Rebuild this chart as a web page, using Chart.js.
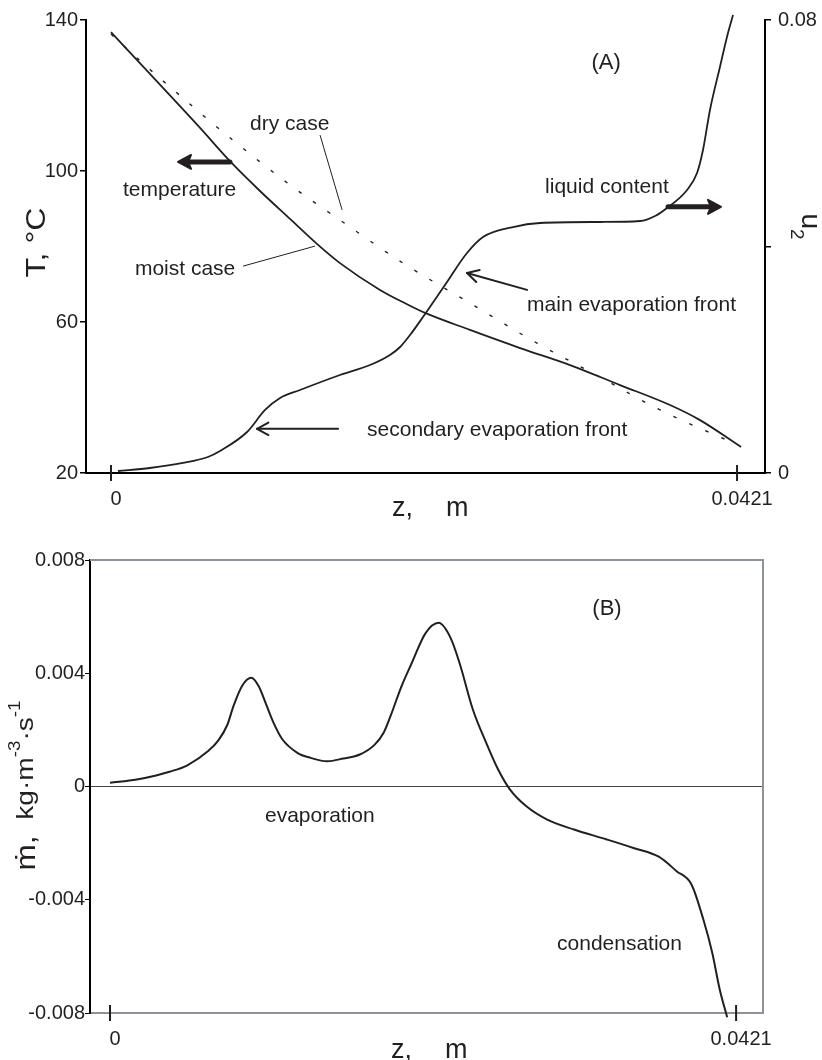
<!DOCTYPE html>
<html>
<head>
<meta charset="utf-8">
<script src="https://cdn.jsdelivr.net/npm/chart.js@4.4.1/dist/chart.umd.min.js"></script>
<style>
  html, body { margin: 0; padding: 0; background: #fff; }
  #wrap { position: relative; width: 822px; height: 1060px; overflow: hidden; }
  #chartA { position: absolute; left: 0; top: 0; }
  #chartB { position: absolute; left: 0; top: 540px; }
</style>
</head>
<body>
<div id="wrap">
  <canvas id="chartA" width="822" height="530"></canvas>
  <canvas id="chartB" width="822" height="520"></canvas>
</div>
<script>
const FONT = "'Liberation Sans', Arial, Helvetica, sans-serif";
const INK = '#231f20';
const FRAME = '#8c939b';

// (A) temperature for the moist and the dry case, liquid content, along z [m]
const moistZ = [0, 0.00262, 0.00599, 0.0080, 0.01002, 0.01204, 0.01385, 0.0154, 0.01809, 0.01991, 0.02112, 0.02414, 0.02751, 0.03087, 0.03423, 0.03759, 0.03961, 0.04237];
const moistT = [136.8, 125.7, 111.4, 102.6, 94.7, 87.3, 80.7, 75.6, 68.5, 64.7, 62.4, 57.9, 53.1, 48.6, 43.3, 38.0, 34.0, 26.9];

const dryZ = [0, 0.00094, 0.00484, 0.00794, 0.01204, 0.0154, 0.01964, 0.02414, 0.02865, 0.03289, 0.03692, 0.04183];
const dryT = [136.3, 132.8, 119.3, 109.0, 96.3, 87.0, 75.6, 65.0, 54.4, 45.4, 36.7, 28.0];

const liquidZ = [0.00047, 0.00262, 0.00484, 0.00652, 0.00733, 0.00915, 0.01036, 0.01137, 0.01271, 0.0154, 0.01742, 0.01876, 0.01944, 0.02011, 0.02098, 0.02246, 0.02394, 0.02502, 0.02704, 0.02885, 0.03289, 0.03558, 0.03659, 0.03739, 0.03874, 0.03941, 0.03981, 0.04028, 0.04095, 0.04149, 0.04183];
const liquidU = [0.00035, 0.00088, 0.00177, 0.00283, 0.00389, 0.00724, 0.01113, 0.01325, 0.01466, 0.01731, 0.01907, 0.02084, 0.02225, 0.02437, 0.02755, 0.0332, 0.03885, 0.04168, 0.04344, 0.04415, 0.04433, 0.0445, 0.04539, 0.0468, 0.04998, 0.05298, 0.05704, 0.06411, 0.0717, 0.0777, 0.08088];

// (B) evaporation / condensation rate
const rateZ = [0, 0.0018, 0.0031, 0.0040, 0.0052, 0.0066, 0.0073, 0.0079, 0.0083, 0.0089, 0.0095, 0.0100, 0.0105, 0.0110, 0.0116, 0.0126, 0.0135, 0.0146, 0.0157, 0.0168, 0.0178, 0.0184, 0.0189, 0.0196, 0.0203, 0.0212, 0.0221, 0.0229, 0.0235, 0.0244, 0.0253, 0.0261, 0.0269, 0.0280, 0.0294, 0.0312, 0.0334, 0.0352, 0.0369, 0.0381, 0.0391, 0.0399, 0.0405, 0.0410, 0.0415];
const rateM = [0.00013, 0.00025, 0.00039, 0.00052, 0.00075, 0.00125, 0.00164, 0.00219, 0.00284, 0.00357, 0.00384, 0.00354, 0.0029, 0.00225, 0.00166, 0.00119, 0.00101, 0.00089, 0.00099, 0.00113, 0.00148, 0.0019, 0.00254, 0.00354, 0.00437, 0.0054, 0.00578, 0.00525, 0.00437, 0.00272, 0.00154, 0.0006, -0.00011, -0.0007, -0.00117, -0.00152, -0.00187, -0.00217, -0.00248, -0.00299, -0.00346, -0.0047, -0.00588, -0.00717, -0.00815];

const zTicks = [0, 0.0421];
const tTicks = [20, 60, 100, 140];
const uTicks = [0, 0.04, 0.08];
const mTicks = [-0.008, -0.004, 0, 0.004, 0.008];

// labels on the panels, placed in data units
const notesA = [
  { text: '(A)', z: 0.0333, v: 126.9, size: 22, align: 'center' },
  { text: 'dry case', z: 0.00935, v: 110.9 },
  { text: 'temperature', z: 0.00081, v: 93.4 },
  { text: 'moist case', z: 0.00161, v: 72.5 },
  { text: 'liquid content', z: 0.02919, v: 94.2 },
  { text: 'main evaporation front', z: 0.02798, v: 62.9 },
  { text: 'secondary evaporation front', z: 0.01722, v: 29.8 }
];
const leadersA = [
  [0.01406, 109.5, 0.01554, 89.7],
  [0.00888, 74.8, 0.01372, 80.1]
];
const arrowsA = [
  { from: [0.0080, 102.4], to: [0.00451, 102.4], heavy: true },
  { from: [0.03746, 90.5], to: [0.04102, 90.5], heavy: true },
  { from: [0.02798, 68.5], to: [0.02394, 73.0] },
  { from: [0.01527, 31.7], to: [0.00982, 31.7] }
];
const notesB = [
  { text: '(B)', z: 0.03342, v: 0.00604, size: 22, align: 'center' },
  { text: 'evaporation', z: 0.01042, v: -0.00124 },
  { text: 'condensation', z: 0.03006, v: -0.00579 }
];

function pairs(xs, ys) {
  return xs.map((x, i) => ({ x: x, y: ys[i] }));
}

function setTicks(values) {
  return (scale) => { scale.ticks = values.map((v) => ({ value: v })); };
}

function drawText(ctx, str, x, y, size, align) {
  ctx.save();
  ctx.font = (size || 21) + 'px ' + FONT;
  ctx.fillStyle = INK;
  ctx.textAlign = align || 'left';
  ctx.textBaseline = 'alphabetic';
  ctx.fillText(str, x, y);
  ctx.restore();
}

function drawRotated(ctx, pieces, bx, cy, angle, length) {
  ctx.save();
  ctx.fillStyle = INK;
  ctx.textBaseline = 'alphabetic';
  ctx.textAlign = 'left';
  let natural = 0;
  pieces.forEach((p) => {
    ctx.font = p.size + 'px ' + FONT;
    p.w = ctx.measureText(p.text).width;
    natural += p.w;
  });
  const sx = length ? length / natural : 1;
  ctx.translate(bx, cy);
  ctx.rotate(angle);
  ctx.scale(sx, 1);
  let x = -natural / 2;
  pieces.forEach((p) => {
    ctx.font = p.size + 'px ' + FONT;
    ctx.fillText(p.text, x, -(p.rise || 0));
    x += p.w;
  });
  ctx.restore();
}

function drawArrow(ctx, x1, y1, x2, y2, heavy) {
  const a = Math.atan2(y2 - y1, x2 - x1);
  const c = Math.cos(a), s = Math.sin(a);
  ctx.save();
  ctx.strokeStyle = INK;
  ctx.fillStyle = INK;
  ctx.lineCap = 'round';
  ctx.lineJoin = 'round';
  if (heavy) {
    const head = 13, half = 7;
    const bx = x2 - c * head, by = y2 - s * head;
    ctx.lineWidth = 5;
    ctx.beginPath();
    ctx.moveTo(x1, y1);
    ctx.lineTo(bx + c * 2, by + s * 2);
    ctx.stroke();
    ctx.lineWidth = 2;
    ctx.beginPath();
    ctx.moveTo(x2, y2);
    ctx.lineTo(bx - s * half, by + c * half);
    ctx.lineTo(bx + c * 3, by + s * 3);
    ctx.lineTo(bx + s * half, by - c * half);
    ctx.closePath();
    ctx.fill();
    ctx.stroke();
  } else {
    ctx.lineWidth = 2;
    ctx.beginPath();
    ctx.moveTo(x1, y1);
    ctx.lineTo(x2, y2);
    ctx.stroke();
    ctx.beginPath();
    ctx.moveTo(x2 - 13 * Math.cos(a - 0.5), y2 - 13 * Math.sin(a - 0.5));
    ctx.lineTo(x2, y2);
    ctx.lineTo(x2 - 13 * Math.cos(a + 0.5), y2 - 13 * Math.sin(a + 0.5));
    ctx.stroke();
  }
  ctx.restore();
}

// the "+" ticks that cross the z axis
const crossTicks = {
  id: 'crossTicks',
  afterDraw(chart) {
    const ctx = chart.ctx;
    const x = chart.scales.x;
    const yb = chart.chartArea.bottom;
    ctx.save();
    ctx.strokeStyle = INK;
    ctx.lineWidth = 2;
    x.ticks.forEach((t) => {
      const px = x.getPixelForValue(t.value);
      ctx.beginPath();
      ctx.moveTo(px, yb - 8);
      ctx.lineTo(px, yb + 8);
      ctx.stroke();
    });
    ctx.restore();
  }
};

function zTitle(chart, baseline) {
  const x = chart.scales.x;
  const ctx = chart.ctx;
  drawText(ctx, 'z,', x.getPixelForValue(0.0189), baseline, 27);
  drawText(ctx, 'm', x.getPixelForValue(0.02253), baseline, 27);
}

const decorA = {
  id: 'decorA',
  afterDraw(chart) {
    const ctx = chart.ctx;
    const ca = chart.chartArea;
    const px = (z) => chart.scales.x.getPixelForValue(z);
    const py = (v) => chart.scales.y.getPixelForValue(v);

    notesA.forEach((n) => drawText(ctx, n.text, px(n.z), py(n.v), n.size, n.align));

    ctx.save();
    ctx.strokeStyle = INK;
    ctx.lineWidth = 1;
    leadersA.forEach((l) => {
      ctx.beginPath();
      ctx.moveTo(px(l[0]), py(l[1]));
      ctx.lineTo(px(l[2]), py(l[3]));
      ctx.stroke();
    });
    ctx.restore();

    arrowsA.forEach((a) => drawArrow(ctx, px(a.from[0]), py(a.from[1]), px(a.to[0]), py(a.to[1]), a.heavy));

    const mid = (ca.top + ca.bottom) / 2;
    drawRotated(ctx, [{ text: 'T, °C', size: 28 }], ca.left - 41, mid - 4, -Math.PI / 2, 70);
    drawRotated(ctx, [{ text: 'u', size: 28 }, { text: '2', size: 19, rise: -11 }], ca.right + 37, mid - 20, Math.PI / 2);
    zTitle(chart, ca.bottom + 43);
  }
};

const decorB = {
  id: 'decorB',
  beforeDatasetsDraw(chart) {
    const ctx = chart.ctx;
    const ca = chart.chartArea;
    ctx.save();
    ctx.strokeStyle = FRAME;
    ctx.lineWidth = 2;
    ctx.beginPath();
    ctx.moveTo(ca.left, ca.top);
    ctx.lineTo(ca.right, ca.top);
    ctx.lineTo(ca.right, ca.bottom);
    ctx.stroke();
    ctx.restore();
  },
  afterDraw(chart) {
    const ctx = chart.ctx;
    const ca = chart.chartArea;
    const px = (z) => chart.scales.x.getPixelForValue(z);
    const py = (v) => chart.scales.y.getPixelForValue(v);
    notesB.forEach((n) => drawText(ctx, n.text, px(n.z), py(n.v), n.size, n.align));

    const mid = (ca.top + ca.bottom) / 2;
    drawRotated(ctx, [
      { text: 'ṁ,', size: 27, rise: -2 },
      { text: '  kg·m', size: 24 },
      { text: '-3', size: 16, rise: 13 },
      { text: '·s', size: 24 },
      { text: '-1', size: 16, rise: 13 }
    ], ca.left - 57, mid - 1, -Math.PI / 2, 170);
    zTitle(chart, ca.bottom + 45);
  }
};

const tickFont = { family: FONT, size: 20 };

function zAxis(min, max, height, borderColor) {
  return {
    type: 'linear',
    min: min,
    max: max,
    afterBuildTicks: setTicks(zTicks),
    afterFit: (s) => { s.height = height; },
    border: { display: true, color: borderColor, width: 2 },
    grid: { display: true, drawOnChartArea: false, drawTicks: false },
    ticks: {
      autoSkip: false,
      maxRotation: 0,
      padding: 14,
      labelOffset: 5,
      color: INK,
      font: tickFont,
      callback: (v) => (v === 0 ? '0' : String(v))
    }
  };
}

new Chart(document.getElementById('chartA'), {
  type: 'line',
  data: {
    datasets: [
      {
        data: pairs(dryZ, dryT),
        yAxisID: 'y',
        borderColor: INK,
        borderWidth: 1.4,
        borderDash: [3.5, 14],
        pointRadius: 0,
        cubicInterpolationMode: 'monotone'
      },
      {
        data: pairs(moistZ, moistT),
        yAxisID: 'y',
        borderColor: INK,
        borderWidth: 1.8,
        pointRadius: 0,
        cubicInterpolationMode: 'monotone'
      },
      {
        data: pairs(liquidZ, liquidU),
        yAxisID: 'y1',
        borderColor: INK,
        borderWidth: 1.8,
        pointRadius: 0,
        cubicInterpolationMode: 'monotone',
        clip: 10
      }
    ]
  },
  options: {
    responsive: false,
    animation: false,
    devicePixelRatio: 1,
    layout: { padding: { top: 20, left: 0, right: 0, bottom: 0 } },
    plugins: { legend: { display: false }, tooltip: { enabled: false } },
    scales: {
      x: zAxis(-0.00168, 0.04398, 57, '#000'),
      y: {
        type: 'linear',
        position: 'left',
        min: 20,
        max: 140,
        afterBuildTicks: setTicks(tTicks),
        afterFit: (s) => { s.width = 86; },
        border: { display: true, color: '#000', width: 2 },
        grid: { drawOnChartArea: false, tickLength: 6, color: '#000', lineWidth: 1.5 },
        ticks: { padding: 2, color: INK, font: tickFont }
      },
      y1: {
        type: 'linear',
        position: 'right',
        min: 0,
        max: 0.08,
        afterBuildTicks: setTicks(uTicks),
        afterFit: (s) => { s.width = 57; },
        border: { display: true, color: '#000', width: 2 },
        grid: { drawOnChartArea: false, tickLength: 6, color: '#000', lineWidth: 1.5 },
        ticks: {
          padding: 7,
          color: INK,
          font: tickFont,
          callback: (v) => (v === 0 ? '0' : (v === 0.08 ? '0.08' : ''))
        }
      }
    }
  },
  plugins: [crossTicks, decorA]
});

new Chart(document.getElementById('chartB'), {
  type: 'line',
  data: {
    datasets: [
      {
        data: pairs(rateZ, rateM),
        borderColor: INK,
        borderWidth: 2,
        pointRadius: 0,
        cubicInterpolationMode: 'monotone',
        clip: 10
      }
    ]
  },
  options: {
    responsive: false,
    animation: false,
    devicePixelRatio: 1,
    layout: { padding: { top: 20, left: 0, right: 59, bottom: 0 } },
    plugins: { legend: { display: false }, tooltip: { enabled: false } },
    scales: {
      x: zAxis(-0.001345, 0.04391, 47, FRAME),
      y: {
        type: 'linear',
        min: -0.008,
        max: 0.008,
        afterBuildTicks: setTicks(mTicks),
        afterFit: (s) => { s.width = 90; },
        border: { display: true, color: '#000', width: 2 },
        grid: {
          drawOnChartArea: true,
          tickLength: 5,
          tickColor: '#000',
          lineWidth: 1,
          color: (c) => (c.tick && Math.abs(c.tick.value) < 1e-9 ? '#444' : 'rgba(0,0,0,0)')
        },
        ticks: {
          padding: 0,
          color: INK,
          font: tickFont,
          callback: (v) => (Math.abs(v) < 1e-9 ? '0' : v.toFixed(3))
        }
      }
    }
  },
  plugins: [crossTicks, decorB]
});
</script>
</body>
</html>
